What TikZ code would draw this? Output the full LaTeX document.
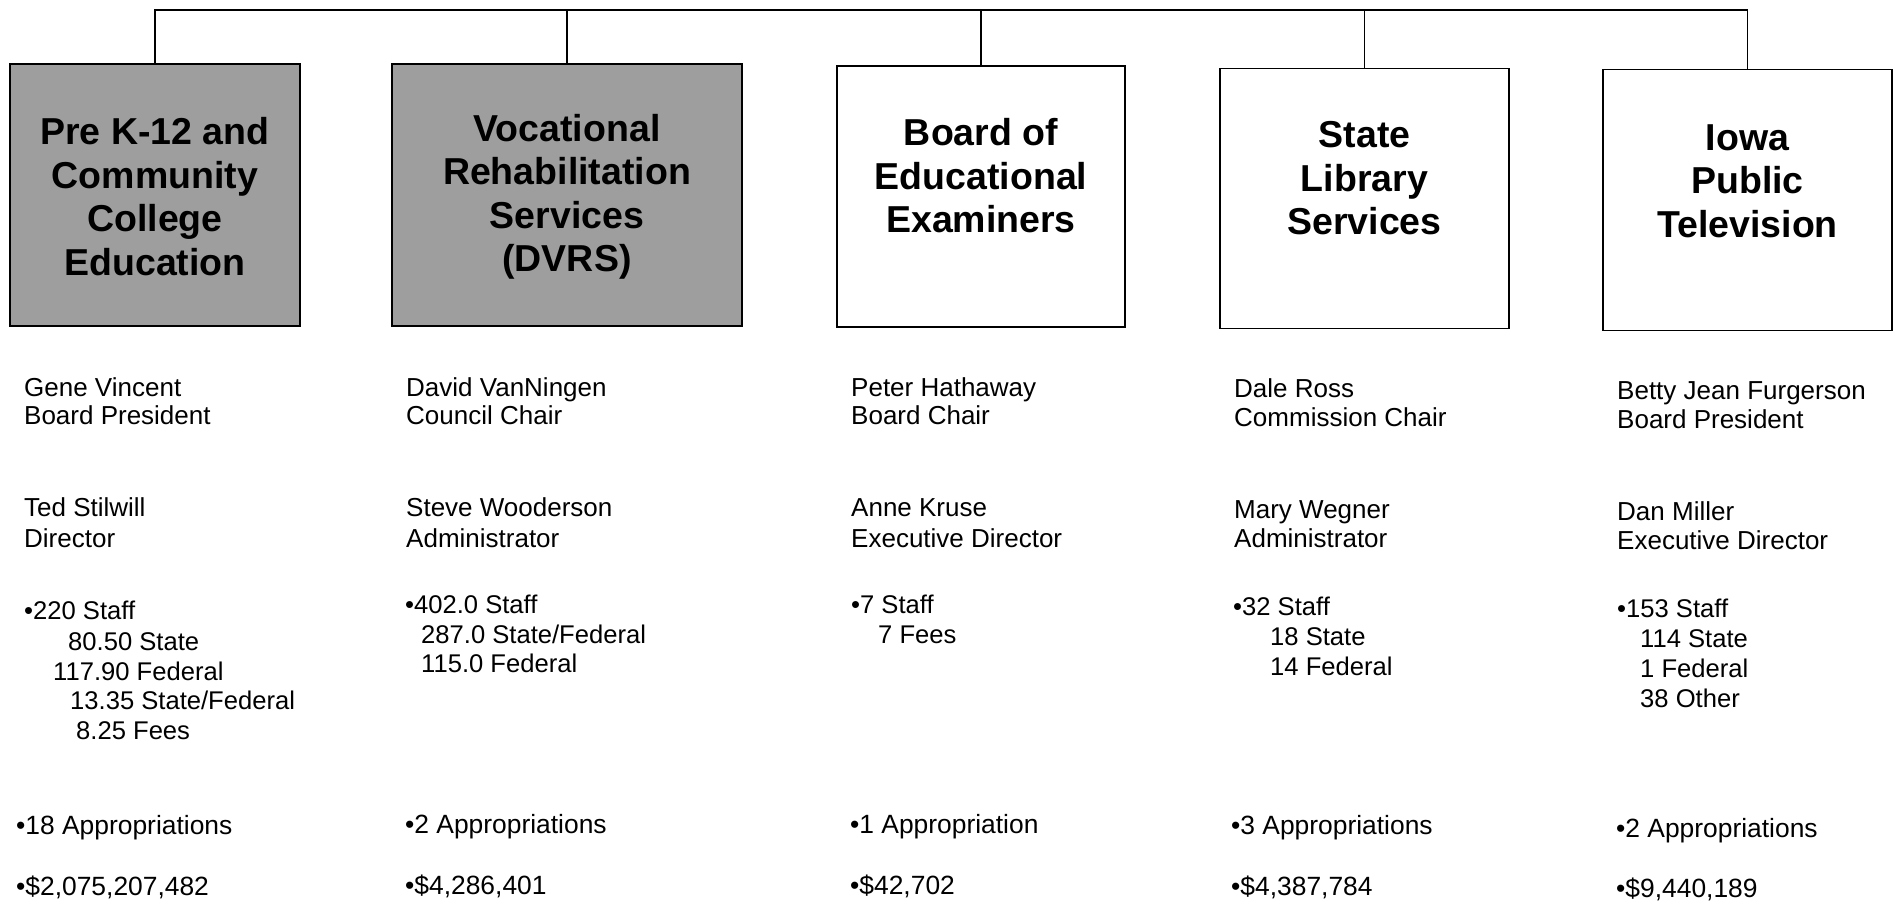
\documentclass[tikz,border=0pt]{standalone}
\usepackage{fontspec}
\setmainfont{Liberation Sans}
\begin{document}
\begin{tikzpicture}[x=1pt,y=-1pt,
  box/.style={draw=black,line width=1.6pt,rectangle,inner sep=0pt},
  shaded/.style={box,fill=black!38},
  title/.style={font=\fontsize{37.5}{43.5}\selectfont\bfseries,align=center,inner sep=0pt},
  txt/.style={font=\fontsize{26}{29}\selectfont,anchor=base west,inner sep=0pt},
  stf/.style={font=\fontsize{25.6}{29}\selectfont,anchor=base west,inner sep=0pt},
  apr/.style={font=\fontsize{26.4}{29}\selectfont,anchor=base west,inner sep=0pt},
  conn/.style={line width=1.3pt}]
\useasboundingbox (0,0) rectangle (1896,904);
% boxes
\node[shaded,minimum width=290pt,minimum height=262pt] (b1) at (155,195) {};
\node[shaded,minimum width=350pt,minimum height=262pt] (b2) at (567,195) {};
\node[box,minimum width=288pt,minimum height=261pt] (b3) at (981,196.5) {};
\node[box,minimum width=289pt,minimum height=260pt] (b4) at (1364.5,198.5) {};
\node[box,minimum width=289pt,minimum height=261pt] (b5) at (1747.5,200) {};
% titles
\node[title] (t1) at (155,196.5) {Pre K-12 and\\Community\\College\\Education};
\node[title] (t2) at (567,197) {Vocational\\Rehabilitation\\Services\\(DVRS)};
\node[title] (t3) at (981,176) {Board of\\Educational\\Examiners};
\node[title] (t4) at (1364.5,178.5) {State\\Library\\Services};
\node[title] (t5) at (1747.5,181) {Iowa\\Public\\Television};
% connectors
\coordinate (bus) at (0,10);
\draw[conn] (b1.north) -- (b1.north |- bus) -- (b5.north |- bus) -- (b5.north);
\draw[conn] (b2.north) -- (b2.north |- bus);
\draw[conn] (b3.north) -- (b3.north |- bus);
\draw[conn] (b4.north) -- (b4.north |- bus);
% column 1
\node[txt] (c1a) at (24,396) {Gene Vincent};
\node[txt] (c1b) at (24,424) {Board President};
\node[txt] (c1c) at (24,516) {Ted Stilwill};
\node[txt] (c1d) at (24,547) {Director};
\node[stf] (c1e) at (24,619) {•220 Staff};
\node[stf] (c1f) at (68,650) {80.50 State};
\node[stf] (c1g) at (53,680) {117.90 Federal};
\node[stf] (c1h) at (70,709) {13.35 State/Federal};
\node[stf] (c1i) at (76,739) {8.25 Fees};
\node[apr] (c1j) at (16,834) {•18 Appropriations};
\node[apr] (c1k) at (16,895) {•\$2,075,207,482};
% column 2
\node[txt] (c2a) at (406,396) {David VanNingen};
\node[txt] (c2b) at (406,424) {Council Chair};
\node[txt] (c2c) at (406,516) {Steve Wooderson};
\node[txt] (c2d) at (406,547) {Administrator};
\node[stf] (c2e) at (405,613) {•402.0 Staff};
\node[stf] (c2f) at (421,643) {287.0 State/Federal};
\node[stf] (c2g) at (421,672) {115.0 Federal};
\node[apr] (c2h) at (405,833) {•2 Appropriations};
\node[apr] (c2i) at (405,894) {•\$4,286,401};
% column 3
\node[txt] (c3a) at (851,396) {Peter Hathaway};
\node[txt] (c3b) at (851,424) {Board Chair};
\node[txt] (c3c) at (851,516) {Anne Kruse};
\node[txt] (c3d) at (851,547) {Executive Director};
\node[stf] (c3e) at (851,613) {•7 Staff};
\node[stf] (c3f) at (878,643) {7 Fees};
\node[apr] (c3g) at (850,833) {•1 Appropriation};
\node[apr] (c3h) at (850,894) {•\$42,702};
% column 4
\node[txt] (c4a) at (1234,397) {Dale Ross};
\node[txt] (c4b) at (1234,426) {Commission Chair};
\node[txt] (c4c) at (1234,518) {Mary Wegner};
\node[txt] (c4d) at (1234,547) {Administrator};
\node[stf] (c4e) at (1233,615) {•32 Staff};
\node[stf] (c4f) at (1270,645) {18 State};
\node[stf] (c4g) at (1270,675) {14 Federal};
\node[apr] (c4h) at (1231,834) {•3 Appropriations};
\node[apr] (c4i) at (1231,895) {•\$4,387,784};
% column 5
\node[txt] (c5a) at (1617,399) {Betty Jean Furgerson};
\node[txt] (c5b) at (1617,428) {Board President};
\node[txt] (c5c) at (1617,520) {Dan Miller};
\node[txt] (c5d) at (1617,549) {Executive Director};
\node[stf] (c5e) at (1617,617) {•153 Staff};
\node[stf] (c5f) at (1640,647) {114 State};
\node[stf] (c5g) at (1640,677) {1 Federal};
\node[stf] (c5h) at (1640,707) {38 Other};
\node[apr] (c5i) at (1616,837) {•2 Appropriations};
\node[apr] (c5j) at (1616,897) {•\$9,440,189};
\end{tikzpicture}
\end{document}
